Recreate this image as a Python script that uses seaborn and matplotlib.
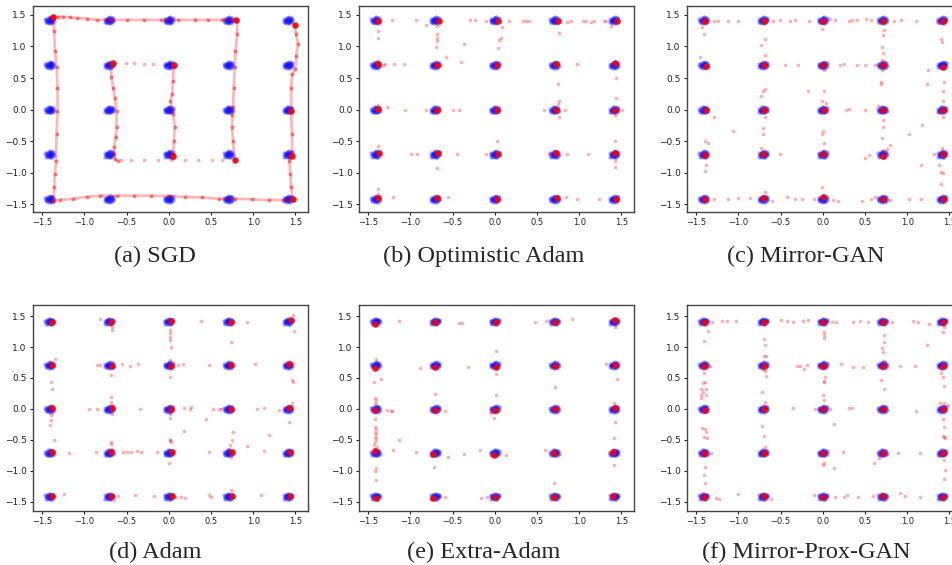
import matplotlib
matplotlib.use("Agg")
import matplotlib.pyplot as plt
import pandas as pd
import seaborn as sns

# 5x5 grid of Gaussian modes (real data, blue)
modes = [-1.414, -0.707, 0.0, 0.707, 1.414]
blue_offsets = [(0.0, 0.0), (0.02, 0.01), (-0.02, 0.0), (0.01, -0.02), (-0.01, 0.02),
                (0.03, -0.01), (-0.03, 0.01), (0.0, 0.03), (0.0, -0.03), (0.02, 0.03),
                (-0.02, -0.03), (0.04, 0.0), (-0.04, 0.0), (0.015, -0.035), (-0.015, 0.035),
                (0.035, 0.025), (-0.035, -0.02), (0.05, -0.015), (-0.05, 0.015), (0.01, 0.045),
                (-0.01, -0.045), (0.045, 0.03), (-0.045, -0.035), (0.025, -0.045)]

ticks = [-1.5, -1.0, -0.5, 0.0, 0.5, 1.0, 1.5]
captions = ["(a) SGD", "(b) Optimistic Adam", "(c) Mirror-GAN",
            "(d) Adam", "(e) Extra-Adam", "(f) Mirror-Prox-GAN"]

# ---- (a) SGD: generator samples run along trails
sgd_left = [(-1.37, 1.47), (-1.36, 1.25), (-1.35, 0.93), (-1.33, 0.67), (-1.32, 0.35), (-1.32, -0.02),
            (-1.33, -0.38), (-1.34, -0.81), (-1.35, -1.02), (-1.36, -1.23), (-1.37, -1.44)]
sgd_top = [(-1.37, 1.47), (-1.31, 1.47), (-1.25, 1.47), (-1.17, 1.46), (-1.09, 1.45), (-0.97, 1.44),
           (-0.85, 1.42), (-0.69, 1.42), (-0.49, 1.42), (-0.29, 1.42), (-0.09, 1.42), (0.11, 1.42),
           (0.31, 1.42), (0.47, 1.42), (0.63, 1.42), (0.79, 1.42)]
sgd_mid_right = [(0.81, 1.41), (0.81, 1.19), (0.79, 0.93), (0.78, 0.67), (0.77, 0.35), (0.76, 0.04),
                 (0.75, -0.09), (0.75, -0.28), (0.76, -0.49), (0.78, -0.79)]
sgd_right = [(1.49, 1.34), (1.51, 1.19), (1.53, 1.04), (1.51, 0.85), (1.50, 0.64), (1.46, 0.56),
             (1.45, 0.35), (1.45, -0.02), (1.46, -0.38), (1.46, -0.67), (1.44, -0.75), (1.43, -0.81),
             (1.44, -1.02), (1.45, -1.23), (1.47, -1.43)]
sgd_bottom = [(-1.37, -1.44), (-1.29, -1.43), (-1.13, -1.41), (-0.97, -1.38), (-0.81, -1.36),
              (-0.61, -1.36), (-0.41, -1.36), (-0.21, -1.36), (-0.01, -1.37), (0.19, -1.38),
              (0.39, -1.39), (0.59, -1.41), (0.79, -1.41), (0.99, -1.42), (1.19, -1.43),
              (1.35, -1.43), (1.47, -1.43)]
sgd_inner_left = [(-0.69, 0.72), (-0.68, 0.51), (-0.66, 0.35), (-0.64, 0.19), (-0.62, -0.02),
                  (-0.62, -0.28), (-0.63, -0.44), (-0.65, -0.59), (-0.65, -0.70), (-0.64, -0.78),
                  (-0.60, -0.81)]
sgd_center = [(0.06, 0.67), (0.05, 0.46), (0.04, 0.25), (0.02, 0.14), (0.05, -0.07), (0.07, -0.28),
              (0.06, -0.49), (0.05, -0.70), (0.05, -0.77)]
sgd_sparse = [(-0.51, 0.74), (-0.41, 0.74), (-0.29, 0.73), (-0.19, 0.72), (-0.57, -0.80),
              (-0.45, -0.80), (-0.29, -0.80), (-0.13, -0.79), (0.03, -0.79), (0.19, -0.79),
              (0.35, -0.79), (0.51, -0.79), (0.63, -0.79)]
sgd_cores = [(0.06, 0.70), (-0.66, 0.74), (1.49, 1.34), (0.78, -0.79), (1.46, -0.73), (1.47, -1.42),
             (0.05, -0.74), (0.80, 1.42), (-1.37, 1.46), (1.45, -0.02)]

# ---- (b) Optimistic Adam
oadam_cores = [(-1.38, 1.41), (-0.66, 1.41), (0.04, 1.40), (0.75, 1.40), (1.45, 1.41),
               (-1.39, 0.72), (-0.68, 0.71), (0.03, 0.71), (0.73, 0.72), (1.42, 0.74),
               (-1.39, 0.01), (-0.69, 0.0), (0.03, 0.0), (0.73, 0.0), (1.42, 0.0),
               (-1.37, -0.69), (-0.67, -0.69), (0.04, -0.70), (0.73, -0.69), (1.42, -0.69),
               (-1.38, -1.40), (-0.68, -1.40), (0.03, -1.41), (0.74, -1.40), (1.44, -1.41)]
oadam_sparse = [(-1.22, 1.42), (-0.94, 1.42), (-0.82, 1.34), (-0.29, 1.42), (-0.23, 1.42), (-0.11, 1.40),
                (0.17, 1.40), (0.34, 1.40), (0.37, 1.40), (0.40, 1.40), (0.85, 1.39), (0.90, 1.40),
                (1.04, 1.40), (1.08, 1.40), (1.14, 1.39), (1.18, 1.40), (1.30, 1.41), (1.32, 1.41),
                (1.38, 1.32), (-1.38, 1.25), (-1.38, 1.14), (-0.69, 1.19), (-0.69, 1.13), (-0.69, 1.09),
                (-0.70, 0.99), (-0.69, 1.33), (0.07, 1.14), (0.05, 1.10), (0.04, 0.98), (0.08, 1.30),
                (-0.37, 1.04), (-0.40, 0.76), (-0.58, 0.83), (0.76, 1.21), (-1.30, 0.72), (-1.20, 0.72),
                (-1.08, 0.72), (-1.33, 0.71), (-0.64, 0.71), (0.98, 0.73), (-1.38, 0.77), (0.75, 0.41),
                (0.76, 0.14), (0.75, 0.09), (1.44, 0.50), (1.44, 0.19), (1.43, -0.08), (-1.28, 0.04),
                (-1.07, 0.0), (-0.82, 0.0), (-0.50, 0.0), (-0.42, 0.0), (0.58, 0.0), (0.83, 0.0),
                (1.51, 0.0), (0.76, -0.12), (-1.38, 0.08), (-1.38, -0.58), (-0.99, -0.70),
                (-0.92, -0.70), (-0.45, -0.70), (-0.11, -0.70), (0.03, -0.49), (-0.68, -0.92),
                (0.64, -0.70), (0.85, -0.70), (1.10, -0.70), (1.43, -0.50), (1.43, -0.81),
                (1.43, -0.91), (-1.38, -1.25), (-1.38, -1.33), (-1.21, -1.39), (-0.55, -1.38),
                (0.84, -1.39), (0.97, -1.42), (1.23, -1.42)]

# ---- (c) Mirror-GAN
mgan_cores = [(-1.40, 1.41), (-0.70, 1.41), (0.0, 1.41), (0.71, 1.41), (1.42, 1.41),
              (-1.39, 0.69), (-0.70, 0.70), (0.0, 0.71), (0.71, 0.71), (1.42, 0.68),
              (-1.39, -0.01), (-0.70, -0.01), (0.02, 0.0), (0.71, 0.0), (1.43, 0.0),
              (-1.40, -0.72), (-0.71, -0.71), (0.0, -0.70), (0.71, -0.73), (1.43, -0.71),
              (-1.40, -1.41), (-0.71, -1.40), (0.0, -1.39), (0.71, -1.41), (1.42, -1.41)]
mgan_sparse = [(-1.29, 1.41), (-1.24, 1.40), (-1.12, 1.41), (-1.01, 1.40), (-0.59, 1.41), (-0.51, 1.42),
               (-0.39, 1.41), (-0.33, 1.42), (-0.16, 1.41), (0.08, 1.43), (0.15, 1.42), (0.31, 1.41),
               (0.35, 1.42), (0.40, 1.42), (0.51, 1.43), (0.57, 1.42), (0.84, 1.41), (0.93, 1.42),
               (1.10, 1.40), (1.35, 1.41), (-1.43, 1.31), (-1.41, 1.20), (-1.46, 0.84), (-1.40, -0.50),
               (-1.36, -0.53), (-1.39, -0.87), (-1.40, -0.97), (-1.29, -0.11), (-0.73, 1.02),
               (-0.69, 1.11), (-0.69, 0.87), (-0.69, 0.33), (-0.71, 0.29), (-0.73, 0.22),
               (-0.69, -0.11), (-0.71, -0.29), (-0.71, -0.38), (-0.73, -0.60), (-0.69, -1.31),
               (-0.01, 1.28), (0.01, 0.29), (-0.01, 0.13), (0.04, 0.10), (0.0, -0.34), (-0.01, -0.38),
               (0.01, -0.53), (-0.01, -1.23), (0.02, 0.63), (0.72, 1.26), (0.71, 1.18), (0.70, 0.99),
               (0.71, 0.90), (0.70, 0.78), (0.70, 0.63), (0.69, 0.44), (0.69, 0.40), (0.71, -0.16),
               (0.71, -0.28), (0.70, -0.45), (0.71, -0.66), (0.76, -0.63), (0.80, -0.56),
               (-0.45, 0.71), (-0.29, 0.71), (0.20, 0.71), (0.25, 0.72), (0.41, 0.70), (0.50, 0.70),
               (0.62, 0.71), (0.27, 0.0), (0.31, 0.01), (0.50, 0.0), (0.65, 0.05), (-0.18, 0.29),
               (-1.06, -0.34), (1.37, -0.04), (1.43, -0.11), (1.43, 0.13), (1.43, 0.29), (1.44, 0.44),
               (1.40, 1.12), (1.41, 1.07), (1.25, 0.62), (1.23, 0.41), (1.18, -0.25), (1.02, -0.38),
               (-0.51, -0.71), (0.50, -0.76), (0.55, -0.72), (1.32, -0.71), (1.16, -0.88),
               (1.38, -0.88), (1.40, -0.99), (1.43, -1.00), (1.40, -1.18), (1.41, -0.60),
               (-1.29, -1.41), (-1.12, -1.41), (-1.00, -1.40), (-0.86, -1.40), (-0.60, -1.44),
               (-0.42, -1.39), (-0.33, -1.41), (-0.25, -1.42), (-0.10, -1.41), (0.12, -1.43),
               (0.18, -1.44), (0.47, -1.44), (0.57, -1.42), (0.62, -1.39), (0.80, -1.43),
               (1.02, -1.41), (1.16, -1.41)]

# ---- (d) Adam
adam_cores = [(-1.38, 1.40), (-0.68, 1.41), (0.03, 1.42), (0.74, 1.41), (1.45, 1.43),
              (-1.38, 0.71), (-0.67, 0.70), (0.03, 0.70), (0.74, 0.71), (1.43, 0.72),
              (-1.39, 0.01), (-0.67, 0.01), (0.03, 0.0), (0.74, 0.0), (1.43, 0.01),
              (-1.38, -0.70), (-0.68, -0.70), (0.04, -0.70), (0.75, -0.70), (1.44, -0.69),
              (-1.39, -1.41), (-0.68, -1.40), (0.04, -1.40), (0.75, -1.40), (1.44, -1.41)]
adam_sparse = [(-0.81, 1.45), (-0.67, 1.33), (-0.67, 1.27), (0.38, 1.42), (0.93, 1.41), (0.74, 1.08),
               (1.48, 1.26), (1.47, 1.52), (1.46, 0.46), (1.47, 0.44), (0.02, 1.27), (0.02, 1.22),
               (0.02, 1.17), (0.03, 1.00), (0.01, 1.11), (0.02, 0.79), (0.02, 0.52), (0.02, -0.08),
               (0.02, -0.14), (0.02, -0.50), (0.03, -0.53), (0.0, -0.87), (-0.85, 0.71), (-0.81, 0.71),
               (-0.55, 0.72), (-0.46, 0.70), (-0.36, 0.72), (0.11, 0.71), (0.17, 0.72), (0.48, 0.71),
               (1.02, 0.72), (-1.35, 0.81), (-0.68, 0.55), (-1.40, 0.44), (-1.39, 0.33),
               (-1.40, -0.10), (-1.40, -0.18), (-1.41, -0.26), (-1.36, -0.51), (-1.18, -0.71),
               (-1.24, -1.38), (-0.68, 0.19), (-0.68, 0.12), (-0.67, 0.06), (-0.66, 0.02),
               (-0.67, -0.09), (-0.68, -0.53), (-0.68, -0.57), (-0.67, -0.64), (-0.95, 0.0),
               (-0.85, 0.0), (-0.34, 0.0), (0.18, 0.01), (0.25, 0.0), (0.26, 0.03), (0.52, 0.0),
               (0.60, 0.0), (0.62, 0.0), (1.04, 0.0), (1.13, 0.02), (1.31, -0.01), (1.46, 0.10),
               (1.43, -0.21), (0.44, -0.16), (0.18, -0.36), (1.19, -0.42), (0.93, -0.60),
               (1.13, -0.68), (0.76, -0.37), (0.75, -0.51), (0.72, -0.59), (0.74, -0.78),
               (0.74, -1.31), (0.71, -0.64), (-0.86, -0.70), (-0.54, -0.69), (-0.50, -0.70),
               (-0.45, -0.70), (-0.38, -0.68), (-0.33, -0.70), (-0.14, -0.70), (0.48, -0.70),
               (0.01, -0.51), (-0.60, -1.41), (-0.65, -1.48), (-0.40, -1.39), (-0.18, -1.40),
               (0.09, -1.42), (0.15, -1.43), (0.19, -1.44), (0.48, -1.39), (0.50, -1.42),
               (1.09, -1.39)]

# ---- (e) Extra-Adam
eadam_cores = [(-1.42, 1.38), (-0.71, 1.40), (0.02, 1.40), (0.71, 1.41), (1.42, 1.43),
               (-1.42, 0.66), (-0.71, 0.67), (0.01, 0.67), (0.71, 0.70), (1.42, 0.71),
               (-1.42, -0.02), (-0.71, -0.02), (0.0, -0.02), (0.71, 0.0), (1.43, 0.01),
               (-1.42, -0.68), (-0.73, -0.73), (-0.01, -0.75), (0.70, -0.72), (1.40, -0.70),
               (-1.41, -1.44), (-0.73, -1.44), (0.0, -1.43), (0.70, -1.42), (1.40, -1.40)]
eadam_sparse = [(-1.14, 1.42), (-0.43, 1.39), (-0.39, 1.39), (0.48, 1.41), (0.61, 1.42), (0.92, 1.45),
                (1.43, 1.33), (0.02, 0.93), (-0.89, 0.66), (-0.32, 0.67), (-1.41, 0.80), (-1.35, 0.49),
                (-1.43, 0.43), (1.32, 0.72), (1.45, 0.48), (0.02, 0.56), (0.01, 0.22), (0.71, 0.35),
                (-0.71, 0.24), (-1.42, 0.18), (-1.41, 0.14), (-1.42, 0.09), (-1.28, -0.02),
                (-1.23, -0.03), (-1.22, -0.04), (-0.59, -0.03), (-0.04, -0.07), (-0.01, -0.15),
                (1.41, 0.09), (1.43, -0.21), (1.41, -0.47), (-1.14, -0.51), (-1.21, -0.66),
                (-0.93, -0.70), (-0.55, -0.77), (-0.36, -0.73), (-0.17, -0.67), (0.13, -0.74),
                (0.60, -0.67), (1.35, -0.72), (1.41, -0.90), (-0.72, -0.94), (0.70, -1.19),
                (-0.59, -1.43), (-0.16, -1.44), (-0.09, -1.43), (-1.42, -0.17), (-1.42, -0.29),
                (-1.41, -0.33), (-1.42, -0.37), (-1.41, -0.41), (-1.42, -0.45), (-1.41, -0.49),
                (-1.42, -0.54), (-1.43, -0.58), (-1.40, -0.61), (-1.42, -0.65), (-1.41, -0.96),
                (-1.42, -1.00), (-1.41, -1.15)]

# ---- (f) Mirror-Prox-GAN
mpgan_cores = [(-1.41, 1.41), (-0.70, 1.41), (0.0, 1.40), (0.71, 1.41), (1.42, 1.41),
               (-1.41, 0.70), (-0.70, 0.70), (0.0, 0.70), (0.71, 0.69), (1.42, 0.69),
               (-1.40, -0.02), (-0.70, 0.0), (0.0, 0.0), (0.71, 0.0), (1.42, 0.0),
               (-1.41, -0.71), (-0.70, -0.71), (0.0, -0.71), (0.71, -0.71), (1.42, -0.71),
               (-1.41, -1.42), (-0.70, -1.41), (0.0, -1.42), (0.71, -1.41), (1.42, -1.42)]
mpgan_sparse = [(-1.31, 1.41), (-1.20, 1.42), (-1.13, 1.42), (-1.03, 1.42), (-0.50, 1.43), (-0.42, 1.42),
                (-0.35, 1.41), (-0.24, 1.42), (-0.18, 1.44), (0.11, 1.40), (0.16, 1.40), (0.36, 1.40),
                (0.44, 1.42), (0.54, 1.40), (0.82, 1.40), (1.07, 1.42), (1.13, 1.40), (1.26, 1.38),
                (-1.36, 1.26), (-1.41, 1.10), (1.44, 1.32), (1.43, 1.24), (1.24, 1.04),
                (-0.70, 1.13), (-0.69, 1.03), (-0.70, 0.86), (-0.67, 0.85), (-0.69, 0.61), (-0.67, 0.53),
                (-0.71, 0.64), (-0.72, 0.28), (-0.69, 0.12), (-0.72, -0.28), (-0.70, -0.44),
                (-0.69, -0.61), (0.01, 1.25), (0.02, 1.19), (0.01, 1.14), (0.03, 0.52), (0.02, 0.45),
                (0.01, 0.43), (0.0, 0.23), (0.01, 0.14), (0.13, -0.24), (0.02, -0.88), (0.0, -0.91),
                (0.13, -0.96), (0.73, 1.19), (0.73, 1.08), (0.70, 0.98), (0.71, 0.92), (0.72, 0.78),
                (0.69, 0.46), (0.72, 0.32), (0.61, -0.88), (0.67, -0.79), (-1.34, 0.70), (-0.31, 0.70),
                (-0.27, 0.70), (-0.22, 0.64), (-0.19, 0.71), (-0.05, 0.70), (0.21, 0.72), (0.36, 0.68),
                (0.48, 0.68), (0.91, 0.69), (1.09, 0.70), (1.40, 0.64), (1.40, 0.58), (1.42, 0.51),
                (1.44, 0.37), (-1.41, 0.58), (-1.40, 0.44), (-1.42, 0.42), (-1.44, 0.33), (-1.39, 0.33),
                (-1.42, 0.27), (-1.44, 0.23), (-1.39, 0.23), (-1.44, 0.18), (-1.43, -0.31),
                (-1.40, -0.32), (-1.39, -0.38), (-1.41, -0.46), (-1.37, -0.47), (-1.33, -0.71),
                (-1.40, -0.94), (-1.41, -1.07), (-1.40, -1.20), (-1.27, -1.44), (-1.23, -1.46),
                (-0.35, 0.02), (-0.09, 0.0), (0.09, 0.0), (0.31, 0.01), (0.35, 0.02), (1.11, -0.04),
                (1.39, 0.10), (1.44, 0.09), (1.48, 0.06), (1.42, -0.16), (1.44, -0.30), (1.42, -0.44),
                (1.44, -0.45), (1.45, -0.47), (0.24, -0.70), (0.89, -0.71), (1.15, -0.71),
                (1.38, -0.75), (1.44, -0.83), (1.45, -0.99), (1.44, -1.14), (-1.00, -1.37),
                (-0.62, -1.45), (-0.11, -1.39), (0.14, -1.43), (0.25, -1.42), (0.29, -1.39),
                (0.42, -1.42), (0.60, -1.41), (0.91, -1.36), (0.97, -1.40), (1.15, -1.42)]

panels = [
    (sgd_sparse, sgd_cores, [sgd_left, sgd_top, sgd_mid_right, sgd_right, sgd_bottom,
                             sgd_inner_left, sgd_center]),
    (oadam_sparse, oadam_cores, []),
    (mgan_sparse, mgan_cores, []),
    (adam_sparse, adam_cores, []),
    (eadam_sparse, eadam_cores, []),
    (mpgan_sparse, mpgan_cores, []),
]

sns.set_style("ticks")
plt.rcParams["font.family"] = ["DejaVu Sans"]

fig = plt.figure(figsize=(9.53, 5.65), dpi=100)
lefts = [33 / 953, 359 / 953, 687 / 953]
bottoms = [1 - 212 / 565, 1 - 511 / 565]
w, h = 275 / 953, 206 / 565
cap_x = [155 / 953, 484 / 953, 806 / 953]
cap_y = [1 - 256 / 565, 1 - 552 / 565]

blue = pd.DataFrame([(cx + dx, cy + dy) for cx in modes for cy in modes
                     for dx, dy in blue_offsets], columns=["x", "y"])

for i, (sparse, cores, trails) in enumerate(panels):
    r, c = divmod(i, 3)
    ax = fig.add_axes([lefts[c], bottoms[r], w, h])
    sns.scatterplot(data=blue, x="x", y="y", color="blue", alpha=0.3, s=10,
                    linewidth=0, ax=ax)
    for t in trails:
        df = pd.DataFrame(t, columns=["x", "y"])
        sns.lineplot(data=df, x="x", y="y", sort=False, estimator=None, color="red",
                     alpha=0.28, lw=2.0, ax=ax)
        sns.scatterplot(data=df, x="x", y="y", color="red", alpha=0.45, s=8,
                        linewidth=0, ax=ax)
    sp = pd.DataFrame(sparse, columns=["x", "y"])
    sns.scatterplot(data=sp, x="x", y="y", color="red", alpha=0.3, s=7,
                    linewidth=0, ax=ax)
    co = pd.DataFrame(cores, columns=["x", "y"])
    sns.scatterplot(data=co, x="x", y="y", color="red", alpha=0.9, s=22,
                    linewidth=0, ax=ax)

    ax.set_xlim(-1.61, 1.65)
    ax.set_ylim(-1.62, 1.64) if r == 0 else ax.set_ylim(-1.65, 1.68)
    ax.set_xticks(ticks)
    ax.set_yticks(ticks)
    ax.set_xlabel("")
    ax.set_ylabel("")
    ax.tick_params(axis="x", labelsize=6, length=2.5, width=0.8, pad=2, colors="#222222")
    ax.tick_params(axis="y", labelsize=6.5, length=2.5, width=0.8, pad=2, colors="#222222")
    for s in ax.spines.values():
        s.set_color("#444444")
        s.set_linewidth(1.0)

    fig.text(cap_x[c], cap_y[r], captions[i], ha="center", va="center",
             fontsize=17.5, family="Liberation Serif")

fig.savefig("out.png", dpi=100)
